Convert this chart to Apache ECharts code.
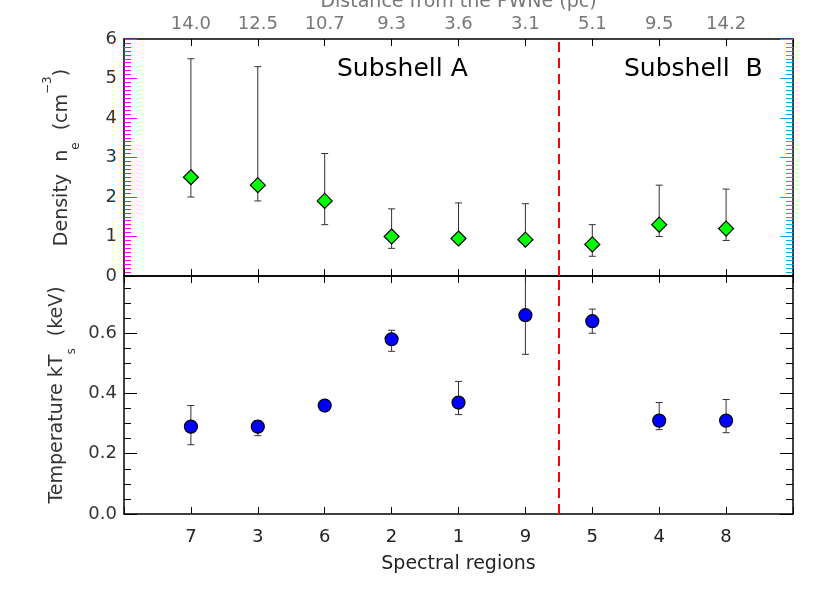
<!DOCTYPE html>
<html>
<head>
<meta charset="utf-8">
<script src="https://cdn.jsdelivr.net/npm/echarts@6/dist/echarts.min.js"></script>
<style>
  html, body { margin: 0; padding: 0; background: #fff; }
  #chart { width: 830px; height: 593px; }
</style>
</head>
<body>
<div id="chart"></div>
<script>
// --- Data ---
const regions = ["7", "3", "6", "2", "1", "9", "5", "4", "8"];
const distances = ["14.0", "12.5", "10.7", "9.3", "3.6", "3.1", "5.1", "9.5", "14.2"];

const density = [2.5, 2.3, 1.9, 1.0, 0.95, 0.92, 0.8, 1.3, 1.2];
const densityLow = [2.0, 1.9, 1.3, 0.7, 0.9, 0.88, 0.5, 1.0, 0.9];
const densityHigh = [5.5, 5.3, 3.1, 1.7, 1.85, 1.83, 1.3, 2.3, 2.2];

const temperature = [0.29, 0.29, 0.36, 0.58, 0.37, 0.66, 0.64, 0.31, 0.31];
const temperatureLow = [0.23, 0.26, 0.35, 0.54, 0.33, 0.53, 0.60, 0.28, 0.27];
const temperatureHigh = [0.36, 0.31, 0.37, 0.61, 0.44, 0.9, 0.68, 0.37, 0.38];

const boundary = 6.5; // between subshell A and B

// --- Helpers ---
const FONT = "DejaVu Sans";
const pos = (i) => i + 1; // regions sit at x = 1..9

function points(values) {
  return values.map((v, i) => [pos(i), v]);
}

function bars(low, high) {
  return low.map((lo, i) => [pos(i), lo, high[i]]);
}

function renderErrorBar(params, api) {
  const x = api.value(0);
  const lo = api.coord([x, api.value(1)]);
  const hi = api.coord([x, api.value(2)]);
  const cap = 3.5;
  const style = { stroke: "#333", lineWidth: 1 };
  return {
    type: "group",
    children: [
      { type: "line", shape: { x1: lo[0], y1: lo[1], x2: hi[0], y2: hi[1] }, style },
      { type: "line", shape: { x1: lo[0] - cap, y1: lo[1], x2: lo[0] + cap, y2: lo[1] }, style },
      { type: "line", shape: { x1: hi[0] - cap, y1: hi[1], x2: hi[0] + cap, y2: hi[1] }, style },
    ],
  };
}

function axisLine() {
  return { show: true, onZero: false, lineStyle: { color: "#000", width: 1.5 } };
}

function xAxis(gridIndex, position, labels, name, nameGap) {
  const top = position === "top";
  return {
    type: "value",
    gridIndex,
    position,
    min: 0,
    max: 10,
    interval: 1,
    axisLine: axisLine(),
    axisTick: { show: true, inside: true, length: 7, lineStyle: { color: "#000", width: 1 } },
    axisLabel: {
      show: !!labels,
      fontFamily: FONT,
      fontSize: 18,
      color: top ? "#777" : "#222",
      margin: top ? 6 : 14,
      formatter: (v) => (labels && v >= 1 && v <= 9 ? labels[v - 1] : ""),
    },
    splitLine: { show: false },
    name: name || "",
    nameLocation: "middle",
    nameGap: nameGap || 0,
    nameTextStyle: {
      fontFamily: FONT,
      fontSize: 19,
      color: top ? "#777" : "#222",
    },
  };
}

function yAxis(gridIndex, position, min, max, interval, minorSplit, showLabels, fmt, name, tickColor) {
  return {
    type: "value",
    gridIndex,
    position,
    min,
    max,
    interval,
    axisLine: axisLine(),
    axisTick: { show: true, inside: true, length: 13, lineStyle: { color: tickColor || "#000", width: 1 } },
    minorTick: { show: true, splitNumber: minorSplit, length: 7, lineStyle: { color: tickColor || "#000", width: 1 } },
    axisLabel: {
      show: showLabels,
      fontFamily: FONT,
      fontSize: 18,
      color: "#333",
      margin: 7,
      formatter: (v) => {
        const k = Math.round(v / interval);
        if (Math.abs(k * interval - v) > 1e-6) return "";
        return fmt(v);
      },
    },
    splitLine: { show: false },
    name: name || "",
    nameLocation: "middle",
    nameRotate: 90,
    nameGap: 42,
    nameTextStyle: {
      fontFamily: FONT,
      fontSize: 19,
      color: "#333",
      rich: {
        t: { fontFamily: FONT, fontSize: 19, color: "#333", lineHeight: 40, verticalAlign: "middle" },
        sub: { fontFamily: FONT, fontSize: 12, color: "#333", lineHeight: 12, verticalAlign: "bottom" },
        sup: { fontFamily: FONT, fontSize: 12, color: "#333", lineHeight: 22, verticalAlign: "top" },
      },
    },
  };
}

function boundaryLine() {
  return {
    silent: true,
    symbol: "none",
    label: { show: false },
    lineStyle: { color: "#ff0000", width: 2, type: [10, 6] },
    emphasis: { disabled: true },
    data: [{ xAxis: boundary }],
  };
}

// --- Chart ---
const chart = echarts.init(document.getElementById("chart"), null, { renderer: "canvas" });

chart.setOption({
  animation: false,
  backgroundColor: "#fff",
  grid: [
    { left: 124, right: 37, top: 39, height: 237, outerBoundsMode: "none", containLabel: false },
    { left: 124, right: 37, top: 276, height: 238, outerBoundsMode: "none", containLabel: false },
  ],
  xAxis: [
    xAxis(0, "top", distances, "Distance from the PWNe (pc)", 27),
    xAxis(0, "bottom", null),
    xAxis(1, "bottom", regions, "Spectral regions", 41),
    xAxis(1, "top", null),
  ],
  yAxis: [
    yAxis(0, "left", 0, 6, 1, 10, true, (v) => String(v),
      "{t|Density  n}{sub|e}{t|  (cm}{sup|−3}{t|)}", "#ff00ff"),
    yAxis(0, "right", 0, 6, 1, 10, false, (v) => String(v), "", "#00aaff"),
    yAxis(1, "left", 0, 0.79, 0.2, 4, true, (v) => v.toFixed(1),
      "{t|Temperature kT}{sub|s}{t|  (keV)}"),
    yAxis(1, "right", 0, 0.79, 0.2, 4, false, (v) => v.toFixed(1)),
  ],
  graphic: [
    {
      type: "text",
      left: 337,
      top: 57,
      style: { text: "Subshell A", fontFamily: FONT, fontSize: 25, fill: "#000" },
    },
    {
      type: "text",
      left: 624,
      top: 57,
      style: { text: "Subshell  B", fontFamily: FONT, fontSize: 25, fill: "#000" },
    },
  ],
  series: [
    {
      name: "density-err",
      type: "custom",
      xAxisIndex: 0,
      yAxisIndex: 0,
      clip: true,
      renderItem: renderErrorBar,
      data: bars(densityLow, densityHigh),
      z: 2,
    },
    {
      name: "density",
      type: "scatter",
      xAxisIndex: 0,
      yAxisIndex: 0,
      symbol: "diamond",
      symbolSize: [15, 15],
      itemStyle: { color: "#00ff00", opacity: 1, borderColor: "#000", borderWidth: 1.2 },
      data: points(density),
      markLine: boundaryLine(),
      z: 3,
    },
    {
      name: "temperature-err",
      type: "custom",
      xAxisIndex: 2,
      yAxisIndex: 2,
      clip: true,
      renderItem: renderErrorBar,
      data: bars(temperatureLow, temperatureHigh),
      z: 2,
    },
    {
      name: "temperature",
      type: "scatter",
      xAxisIndex: 2,
      yAxisIndex: 2,
      symbol: "circle",
      symbolSize: 13,
      itemStyle: { color: "#0000ff", opacity: 1, borderColor: "#000", borderWidth: 1.2 },
      data: points(temperature),
      markLine: boundaryLine(),
      z: 3,
    },
  ],
});
</script>
</body>
</html>
